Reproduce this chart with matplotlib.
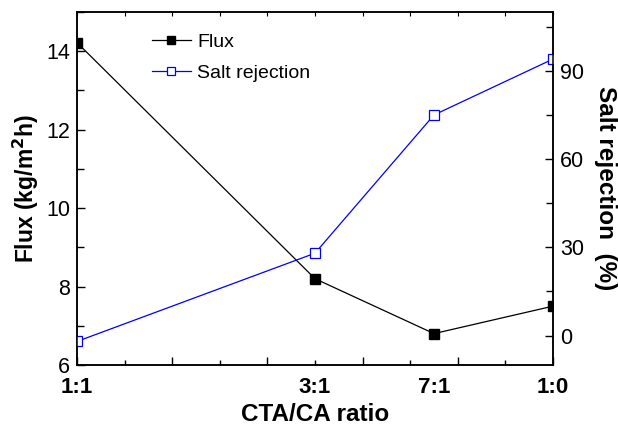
import numpy as np
import matplotlib
matplotlib.use("Agg")
import matplotlib.pyplot as plt
from matplotlib.ticker import MultipleLocator

plt.rcParams['font.family'] = ['Liberation Sans', 'DejaVu Sans']

# CTA content (%) used as x position for each CTA/CA ratio
cta_pct = [50, 75, 87.5, 100]
ratio_labels = ['1:1', '3:1', '7:1', '1:0']
flux = [14.22, 8.2, 6.8, 7.5]
salt_rejection = [-2.0, 28.0, 75.0, 94.0]

fig = plt.figure(figsize=(6.18, 4.30), dpi=100)
ax = fig.add_axes([0.1246, 0.1512, 0.7702, 0.8209])
ax2 = ax.twinx()

l1, = ax.plot(cta_pct, flux, '-s', color='black', lw=0.9, ms=6.5,
              mfc='black', mec='black', label='Flux')
l2, = ax2.plot(cta_pct, salt_rejection, '-s', color='blue', lw=0.9, ms=6.5,
               mfc='white', mec='blue', mew=0.9, label='Salt rejection')

ax.set_xlim(50, 100)
ax.set_ylim(6, 15)
ax2.set_ylim(-10, 110)

# ratio labels without tick marks
ax.set_xticks(cta_pct, ratio_labels, fontsize=16, fontweight='bold')
ax.tick_params(axis='x', length=0, pad=9)

# tick marks from a secondary axis
sec = ax.secondary_xaxis('bottom')
sec.xaxis.set_major_locator(MultipleLocator(10))
sec.xaxis.set_minor_locator(MultipleLocator(5))
sec.tick_params(which='major', direction='in', length=6, width=1, labelbottom=False)
sec.tick_params(which='minor', direction='in', length=3.5, width=1)
sec.spines['bottom'].set_visible(False)

top = ax.secondary_xaxis('top')
top.xaxis.set_major_locator(MultipleLocator(5))
top.tick_params(direction='in', length=3, width=0.8, labeltop=False)
top.spines['top'].set_visible(False)

ax.yaxis.set_major_locator(MultipleLocator(2))
ax.yaxis.set_minor_locator(MultipleLocator(1))
ax.tick_params(axis='y', which='major', direction='in', length=6, width=1,
               labelsize=15.5, pad=5)
ax.tick_params(axis='y', which='minor', direction='in', length=5, width=1)

ax2.yaxis.set_major_locator(MultipleLocator(30))
ax2.yaxis.set_minor_locator(MultipleLocator(15))
ax2.tick_params(axis='y', which='major', direction='in', length=6, width=1,
                labelsize=15.5, pad=5)
ax2.tick_params(axis='y', which='minor', direction='in', length=5, width=1)

for a in (ax, ax2):
    for s in a.spines.values():
        s.set_linewidth(1.1)

ax.set_xlabel('CTA/CA ratio', fontsize=17.5, fontweight='bold', labelpad=3)
ax.set_ylabel('Flux (kg/m$^\\mathbf{2}$h)', fontsize=16.5, fontweight='bold', labelpad=4)
ax2.set_ylabel('Salt rejection  (%)', fontsize=17.5, fontweight='bold',
               rotation=270, labelpad=24)

ax.legend([l1, l2], ['Flux', 'Salt rejection'], loc='upper left',
          bbox_to_anchor=(0.12, 0.99), frameon=False, fontsize=14,
          handlelength=2.0, handletextpad=0.35, labelspacing=0.7, markerscale=0.85)

fig.savefig('out.png', dpi=100)
